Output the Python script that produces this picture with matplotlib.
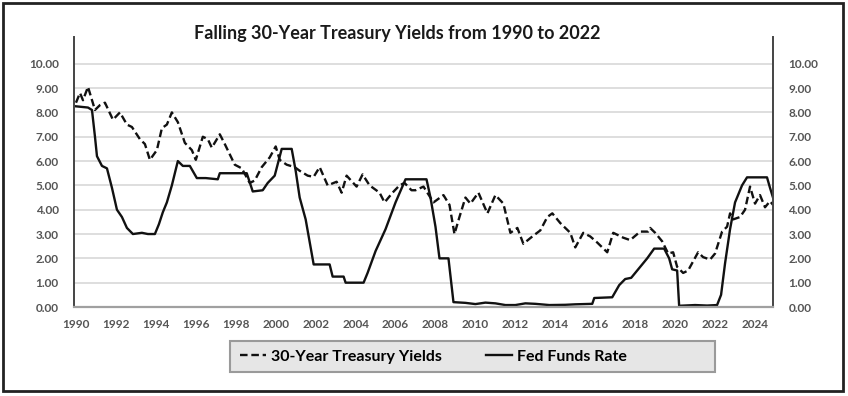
import numpy as np
import matplotlib
matplotlib.use('Agg')
import matplotlib.pyplot as plt
from matplotlib.patches import Rectangle

plt.rcParams['font.family'] = ['Lato', 'DejaVu Sans']

TITLE = 'Falling 30-Year Treasury Yields from 1990 to 2022'

# 30-year treasury yields (year, percent)
tsy_years = [1990.0, 1990.2, 1990.35, 1990.6, 1990.95, 1991.2, 1991.45, 1991.85, 1992.2, 1992.55,
             1992.8, 1993.2, 1993.45, 1993.7, 1994.05, 1994.3, 1994.55, 1994.8, 1995.1, 1995.45,
             1995.8, 1996.0, 1996.35, 1996.6, 1996.8, 1997.2, 1997.45, 1997.95, 1998.3, 1998.7,
             1998.95, 1999.3, 1999.7, 2000.0, 2000.2, 2000.55, 2000.95, 2001.2, 2001.6, 2001.9,
             2002.2, 2002.6, 2003.05, 2003.3, 2003.55, 2004.05, 2004.35, 2004.7, 2005.2, 2005.45,
             2005.85, 2006.2, 2006.45, 2006.8, 2007.0, 2007.4, 2007.9, 2008.4, 2008.7, 2008.95,
             2009.2, 2009.5, 2009.75, 2010.15, 2010.6, 2011.0, 2011.4, 2011.75, 2012.1, 2012.4,
             2012.85, 2013.25, 2013.6, 2013.85, 2014.25, 2014.75, 2015.0, 2015.4, 2015.75, 2016.1,
             2016.6, 2016.9, 2017.4, 2017.75, 2018.25, 2018.65, 2018.75, 2019.0, 2019.35, 2019.65,
             2019.9, 2020.1, 2020.4, 2020.65, 2021.15, 2021.4, 2021.75, 2022.0, 2022.35, 2022.6,
             2022.75, 2022.9, 2023.25, 2023.5, 2023.75, 2024.0, 2024.25, 2024.5, 2024.75, 2024.9]
tsy_values = [8.4, 8.8, 8.5, 9.05, 8.1, 8.3, 8.4, 7.7, 8.0, 7.5,
              7.4, 6.9, 6.7, 6.05, 6.45, 7.35, 7.5, 8.0, 7.6, 6.75,
              6.45, 6.05, 7.0, 6.9, 6.55, 7.1, 6.7, 5.85, 5.7, 5.1,
              5.2, 5.75, 6.15, 6.6, 6.05, 5.85, 5.75, 5.6, 5.4, 5.35,
              5.75, 5.0, 5.15, 4.7, 5.4, 4.95, 5.45, 5.0, 4.7, 4.3,
              4.7, 5.0, 5.1, 4.8, 4.8, 4.95, 4.3, 4.6, 4.2, 3.0,
              3.7, 4.5, 4.25, 4.7, 3.85, 4.6, 4.25, 3.05, 3.25, 2.6,
              2.9, 3.15, 3.7, 3.85, 3.45, 3.05, 2.45, 3.05, 2.9, 2.65,
              2.25, 3.05, 2.85, 2.75, 3.1, 3.1, 3.25, 3.05, 2.7, 2.2,
              2.25, 1.65, 1.4, 1.5, 2.25, 2.05, 1.95, 2.2, 3.1, 3.3,
              3.85, 3.6, 3.7, 4.0, 4.95, 4.25, 4.6, 4.1, 4.35, 4.2]

# effective fed funds rate (year, percent)
fed_years = [1990.0, 1990.6, 1990.8, 1990.95, 1991.05, 1991.3, 1991.55, 1991.8, 1992.05, 1992.3,
             1992.55, 1992.85, 1993.3, 1993.6, 1993.95, 1994.15, 1994.35, 1994.55, 1994.8, 1995.1,
             1995.35, 1995.7, 1996.05, 1996.5, 1997.1, 1997.2, 1998.55, 1998.85, 1999.35, 1999.6,
             1999.95, 2000.3, 2000.8, 2001.0, 2001.2, 2001.5, 2001.9, 2002.7, 2002.85, 2003.4,
             2003.5, 2004.4, 2004.6, 2005.0, 2005.5, 2006.0, 2006.5, 2007.55, 2007.75, 2008.0,
             2008.2, 2008.65, 2008.9, 2009.5, 2010.0, 2010.5, 2011.0, 2011.5, 2012.0, 2012.5,
             2013.0, 2013.7, 2014.5, 2015.0, 2015.85, 2015.95, 2016.85, 2017.2, 2017.5, 2017.8,
             2018.2, 2018.6, 2018.95, 2019.45, 2019.7, 2019.85, 2020.1, 2020.2, 2021.0, 2021.6,
             2022.1, 2022.3, 2022.5, 2022.75, 2023.0, 2023.35, 2023.6, 2024.6, 2024.75, 2024.9]
fed_values = [8.25, 8.2, 8.1, 7.0, 6.2, 5.8, 5.7, 4.9, 4.0, 3.7,
              3.25, 3.0, 3.05, 3.0, 3.0, 3.4, 3.9, 4.3, 5.0, 6.0,
              5.8, 5.8, 5.3, 5.3, 5.25, 5.5, 5.5, 4.75, 4.8, 5.1,
              5.4, 6.5, 6.5, 5.6, 4.5, 3.6, 1.75, 1.75, 1.25, 1.25,
              1.0, 1.0, 1.4, 2.3, 3.2, 4.3, 5.25, 5.25, 4.5, 3.3,
              2.0, 2.0, 0.2, 0.17, 0.12, 0.18, 0.15, 0.08, 0.08, 0.15,
              0.13, 0.08, 0.09, 0.11, 0.13, 0.37, 0.4, 0.9, 1.15, 1.2,
              1.6, 2.0, 2.4, 2.4, 2.0, 1.55, 1.5, 0.05, 0.08, 0.06,
              0.08, 0.5, 1.8, 3.2, 4.3, 5.0, 5.33, 5.33, 4.9, 4.5]

x_ticks = list(range(1990, 2025, 2))
y_ticks = list(range(0, 11))

fig = plt.figure(figsize=(8.48, 3.96), dpi=100)
ax = fig.add_axes([74 / 848, 1 - 307 / 396, 699 / 848, 270 / 396])

ax.plot(tsy_years, tsy_values, color='#111111', lw=1.7, linestyle=(0, (3.2, 1.6)),
        label='30-Year Treasury Yields')
ax.plot(fed_years, fed_values, color='#111111', lw=1.7, label='Fed Funds Rate')

ax.set_xlim(1989.9, 2024.9)
ax.set_ylim(0, 11.1)
ax.set_xticks(x_ticks)
ax.set_yticks(y_ticks)
ax.set_yticklabels([f'{v:.2f}' for v in y_ticks])
ax.grid(axis='y', color='#dedede', lw=1.4)
ax.set_axisbelow(True)
ax.tick_params(length=0, labelsize=8.5, labelcolor='#555555', pad=11,
               labelright=True)
ax.tick_params(axis='x', pad=9)
for lab in ax.get_xticklabels() + ax.get_yticklabels():
    lab.set_fontweight('bold')
ax.spines['top'].set_visible(False)
ax.spines['bottom'].set_color('#a0a0a0')
ax.spines['bottom'].set_linewidth(1.6)
for side in ['left', 'right']:
    ax.spines[side].set_color('#444444')
    ax.spines[side].set_linewidth(1.4)

fig.text(397 / 848, 1 - 33 / 396, TITLE, ha='center', va='center',
         fontsize=13, fontweight='bold', color='#1a1a1a')

# legend box, then the legend itself without its own frame
fig.patches.append(Rectangle((230 / 848, 1 - 372 / 396), 485 / 848, 31 / 396,
                             transform=fig.transFigure, facecolor='#e6e6e6',
                             edgecolor='#9a9a9a', lw=1.5, zorder=0))
leg = fig.legend(loc='center left', ncol=2, frameon=False,
                 bbox_to_anchor=(234 / 848, 1 - 356.5 / 396),
                 prop={'weight': 'bold', 'size': 11.5}, handlelength=1.6,
                 handletextpad=0.3, columnspacing=2.8, borderaxespad=0)

# outer frame around the whole picture
fig.patches.append(Rectangle((3 / 848, 5 / 396), 840 / 848, 388 / 396, transform=fig.transFigure,
                             fill=False, edgecolor='#222222', lw=2))

fig.savefig('out.png', dpi=100)
